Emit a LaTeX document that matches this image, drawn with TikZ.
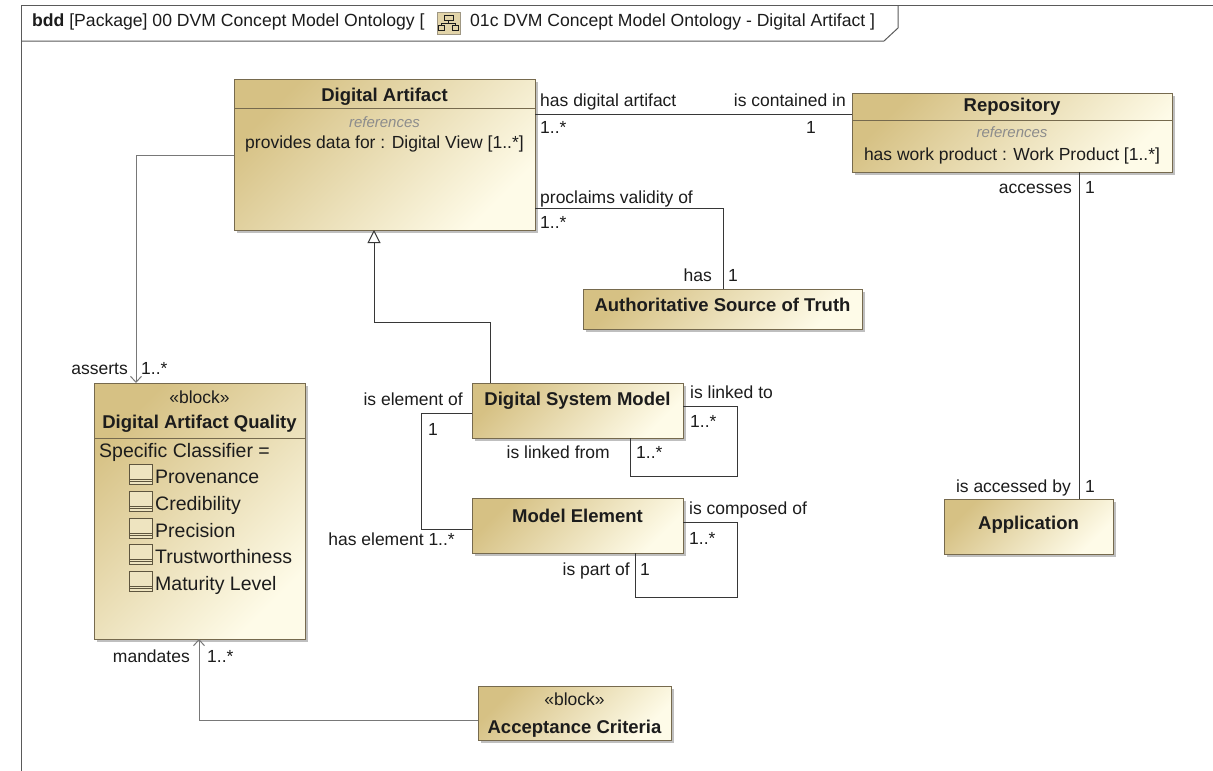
\documentclass[tikz,border=0pt]{standalone}
\usepackage{fontspec}
\setmainfont{Liberation Sans}
\usetikzlibrary{shadows,arrows.meta}

\definecolor{boxtan}{RGB}{214,193,132}
\definecolor{boxcream}{RGB}{254,251,232}
\definecolor{boxline}{RGB}{118,106,78}
\definecolor{wire}{RGB}{55,55,55}
\definecolor{softwire}{RGB}{120,120,120}
\definecolor{ink}{RGB}{28,28,28}
\definecolor{refgray}{RGB}{140,140,140}
\definecolor{framegray}{RGB}{90,90,90}

\newcommand{\fs}[1]{\fontsize{#1}{#1}\selectfont}

\tikzset{
  umlbox/.style={draw=boxline, line width=0.9pt, top color=boxtan, bottom color=boxcream,
    shading angle=45, inner sep=0pt, outer sep=0pt, anchor=north west,
    drop shadow={shadow xshift=3pt, shadow yshift=-3pt, opacity=0.45, fill=black!55}},
  lab/.style={font=\fs{17.5}, inner sep=0pt, text=ink},
  ttl/.style={font=\bfseries\fs{18.5}, inner sep=0pt, text=ink, anchor=base},
  stereo/.style={font=\fs{17.5}, inner sep=0pt, text=ink, anchor=base},
  refs/.style={font=\itshape\fs{15}, inner sep=0pt, text=refgray, anchor=base},
  prop/.style={font=\fs{17.5}, inner sep=0pt, text=ink, anchor=base},
  body/.style={font=\fs{19.5}, inner sep=0pt, text=ink, anchor=base west},
  assoc/.style={draw=wire, line width=1pt},
  depline/.style={draw=softwire, line width=1pt, -{Straight Barb[length=6pt,width=11pt]}},
  genline/.style={draw=wire, line width=1pt, -{Triangle[length=13pt,width=13pt,fill=white]}},
  sepline/.style={draw=boxline, line width=0.8pt},
  litbox/.style={draw=boxline!80!black, line width=0.8pt, fill=boxcream!60!boxtan}
}

\begin{document}
\begin{tikzpicture}[x=1pt,y=-1pt]
  \useasboundingbox (0,0) rectangle (1213,771);
  \fill[white] (0,0) rectangle (1213,771);

  % diagram frame and header tab
  \draw[framegray, line width=1pt] (21,771) -- (21,5) -- (1213,5);
  \draw[framegray, line width=1pt] (898,5) -- (898,28) -- (884,41) -- (21,41);
  \node[font=\fs{17.6}, inner sep=0pt, text=ink, anchor=base west] (hdrA) at (32,27)
    {\textbf{bdd} [Package] 00 DVM Concept Model Ontology [};
  % diagram icon in the header
  \fill[boxtan!70!white, draw=boxline!70] (437,12) rectangle (460,34);
  \draw[ink, line width=0.9pt] (444,15) rectangle (453,20);
  \draw[ink, line width=0.9pt] (448.5,20) -- (448.5,23) (441.5,23) -- (455.5,23)
     (441.5,23) -- (441.5,25) (455.5,23) -- (455.5,25);
  \draw[ink, line width=0.9pt] (438.5,25) rectangle (444.5,30.5) (452.5,25) rectangle (458.5,30.5);
  \node[font=\fs{17.6}, inner sep=0pt, text=ink, anchor=base west] (hdrB) at (470,27)
    {01c DVM Concept Model Ontology - Digital Artifact ]};

  % blocks
  \node[umlbox, minimum width=301pt, minimum height=151pt] (da)  at (234,79)  {};
  \node[umlbox, minimum width=320pt, minimum height=79pt]  (rep) at (852,93)  {};
  \node[umlbox, minimum width=279pt, minimum height=40pt]  (ast) at (583,289) {};
  \node[umlbox, minimum width=169pt, minimum height=55pt]  (app) at (944,499) {};
  \node[umlbox, minimum width=211pt, minimum height=55pt]  (dsm) at (472,383) {};
  \node[umlbox, minimum width=211pt, minimum height=55pt]  (me)  at (472,498) {};
  \node[umlbox, minimum width=211pt, minimum height=256pt] (daq) at (94,383)  {};
  \node[umlbox, minimum width=193pt, minimum height=54pt]  (ac)  at (478,686) {};

  % compartment separators
  \draw[sepline] (da.west |- 0,108) -- (da.east |- 0,108);
  \draw[sepline] (rep.west |- 0,120) -- (rep.east |- 0,120);
  \draw[sepline] (daq.west |- 0,438) -- (daq.east |- 0,438);

  % Digital Artifact
  \node[ttl]  (daT) at (384.5,101) {Digital Artifact};
  \node[refs] (daR) at (384.5,127) {references};
  \node[prop] (daP) at (384.5,148) {provides data for : Digital View [1..*]};

  % Repository
  \node[ttl]  (repT) at (1012,111) {Repository};
  \node[refs] (repR) at (1012,137) {references};
  \node[prop] (repP) at (1012,160) {has work product : Work Product [1..*]};

  % single-compartment blocks
  \node[ttl] (astT) at (722.5,311) {Authoritative Source of Truth};
  \node[ttl] (appT) at (1028.5,529) {Application};
  \node[ttl] (dsmT) at (577.5,405) {Digital System Model};
  \node[ttl] (meT)  at (577.5,522) {Model Element};
  \node[stereo] (acS) at (574.5,705) {«block»};
  \node[ttl]    (acT) at (574.5,733) {Acceptance Criteria};

  % Digital Artifact Quality
  \node[stereo] (daqS) at (199.5,403) {«block»};
  \node[ttl]    (daqT) at (199.5,428) {Digital Artifact Quality};
  \node[body] (daqC) at (99,457) {Specific Classifier =};
  \foreach \nm/\yy in {Provenance/483, Credibility/510, Precision/537, Trustworthiness/563, Maturity Level/590} {
    \draw[litbox] (129,\yy-19) rectangle (152,\yy+1);
    \draw[boxline!80!black, line width=0.8pt] (129,\yy-4) -- (152,\yy-4) (129,\yy-1.5) -- (152,\yy-1.5);
    \node[body] at (155,\yy) {\nm};
  }

  % associations
  \draw[assoc] (da.east |- 0,114) -- (rep.west |- 0,114);
  \draw[assoc] (da.east |- 0,208) -- (723,208) -- (ast.north -| 723,0);
  \draw[assoc] (rep.south -| 1079,0) -- (app.north -| 1079,0);
  \draw[assoc] (dsm.east |- 0,406) -- (737,406) -- (737,476) -- (630,476) -- (dsm.south -| 630,0);
  \draw[assoc] (dsm.west |- 0,413) -- (421,413) -- (421,529) -- (me.west |- 0,529);
  \draw[assoc] (me.east |- 0,522) -- (737,522) -- (737,597) -- (635,597) -- (me.south -| 635,0);

  % generalization
  \draw[genline] (dsm.north -| 490,0) -- (490,322) -- (374,322) -- (da.south -| 374,0);

  % directed associations
  \draw[depline] (da.west |- 0,155) -- (136,155) -- (daq.north -| 136,0);
  \draw[depline] (ac.west |- 0,720) -- (199,720) -- (daq.south -| 199,0);

  % association end labels
  \node[lab, anchor=base west] (l1) at (540,106) {has digital artifact};
  \node[lab, anchor=base west] (l2) at (540,133) {1..*};
  \node[lab, anchor=base east] (l3) at (846,106) {is contained in};
  \node[lab, anchor=base west] (l4) at (806,133) {1};
  \node[lab, anchor=base west] (l5) at (540,203) {proclaims validity of};
  \node[lab, anchor=base west] (l6) at (540,228) {1..*};
  \node[lab, anchor=base east] (l7) at (712,281) {has};
  \node[lab, anchor=base west] (l8) at (728,281) {1};
  \node[lab, anchor=base east] (l9) at (1072,193) {accesses};
  \node[lab, anchor=base west] (l10) at (1085,193) {1};
  \node[lab, anchor=base east] (l11) at (1071,492) {is accessed by};
  \node[lab, anchor=base west] (l12) at (1085,492) {1};
  \node[lab, anchor=base east] (l13) at (128,374) {asserts};
  \node[lab, anchor=base west] (l14) at (141,374) {1..*};
  \node[lab, anchor=base east] (l15) at (463,405) {is element of};
  \node[lab, anchor=base west] (l16) at (428,435) {1};
  \node[lab, anchor=base west] (l17) at (690,398) {is linked to};
  \node[lab, anchor=base west] (l18) at (690,427) {1..*};
  \node[lab, anchor=base east] (l19) at (610,458) {is linked from};
  \node[lab, anchor=base west] (l20) at (636,458) {1..*};
  \node[lab, anchor=base west] (l21) at (689,514) {is composed of};
  \node[lab, anchor=base west] (l22) at (689,544) {1..*};
  \node[lab, anchor=base east] (l23) at (455,545) {has element 1..*};
  \node[lab, anchor=base east] (l24) at (630,575) {is part of};
  \node[lab, anchor=base west] (l25) at (640,575) {1};
  \node[lab, anchor=base east] (l26) at (190,662) {mandates};
  \node[lab, anchor=base west] (l27) at (207,662) {1..*};
\end{tikzpicture}
\end{document}
